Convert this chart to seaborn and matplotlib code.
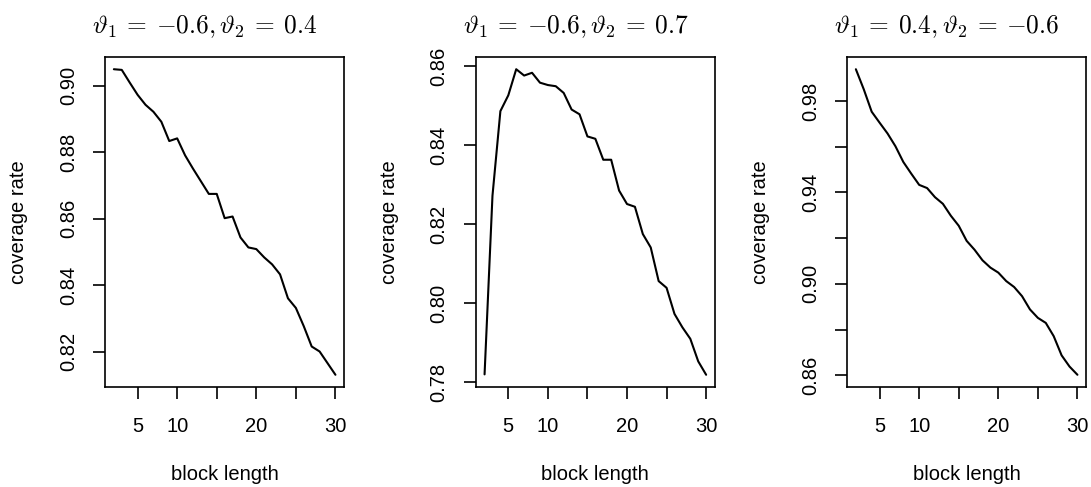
import numpy as np
import pandas as pd
import matplotlib
matplotlib.use("Agg")
import matplotlib.pyplot as plt
import seaborn as sns

# ---- data ----
block_length = list(range(2, 31))

cov_a = [0.9049, 0.9047, 0.9009, 0.8972, 0.8942, 0.8921, 0.8891, 0.8833, 0.8841,
         0.8790, 0.8750, 0.8712, 0.8674, 0.8674, 0.8601, 0.8606, 0.8543, 0.8513,
         0.8508, 0.8483, 0.8462, 0.8432, 0.8360, 0.8331, 0.8276, 0.8215, 0.8200,
         0.8165, 0.8130]
cov_b = [0.7820, 0.8272, 0.8486, 0.8526, 0.8592, 0.8576, 0.8583, 0.8558, 0.8552,
         0.8549, 0.8532, 0.8490, 0.8478, 0.8422, 0.8416, 0.8363, 0.8363, 0.8285,
         0.8251, 0.8244, 0.8175, 0.8141, 0.8056, 0.8039, 0.7973, 0.7939, 0.7910,
         0.7853, 0.7819]
cov_c = [0.9939, 0.9851, 0.9753, 0.9705, 0.9658, 0.9602, 0.9533, 0.9482, 0.9433,
         0.9419, 0.9379, 0.9350, 0.9298, 0.9254, 0.9188, 0.9149, 0.9103, 0.9071,
         0.9049, 0.9012, 0.8986, 0.8946, 0.8888, 0.8851, 0.8829, 0.8771, 0.8687,
         0.8638, 0.8602]

titles = [r"$\vartheta_1 \:=\: {-}0.6, \vartheta_2 \:=\: 0.4$",
          r"$\vartheta_1 \:=\: {-}0.6, \vartheta_2 \:=\: 0.7$",
          r"$\vartheta_1 \:=\: 0.4, \vartheta_2 \:=\: {-}0.6$"]

x_ticks = [5, 10, 15, 20, 25, 30]
x_ticklabels = ["5", "10", "", "20", "", "30"]

y_ticks_a = [0.82, 0.84, 0.86, 0.88, 0.90]
y_labels_a = ["0.82", "0.84", "0.86", "0.88", "0.90"]
y_ticks_b = [0.78, 0.80, 0.82, 0.84, 0.86]
y_labels_b = ["0.78", "0.80", "0.82", "0.84", "0.86"]
y_ticks_c = [0.86, 0.88, 0.90, 0.92, 0.94, 0.96, 0.98]
y_labels_c = ["0.86", "", "0.90", "", "0.94", "", "0.98"]

# ---- style ----
sns.set_theme(style="white")
plt.rcParams["font.family"] = ["Liberation Sans", "DejaVu Sans"]
plt.rcParams["mathtext.fontset"] = "cm"

fig = plt.figure(figsize=(10.91, 4.87), dpi=100)

lefts = [105 / 1091, 475.7 / 1091, 847 / 1091]
w = 239.3 / 1091
bottom = 100 / 487
h = 330 / 487

series = [cov_a, cov_b, cov_c]
yticks = [y_ticks_a, y_ticks_b, y_ticks_c]
ylabels = [y_labels_a, y_labels_b, y_labels_c]

fs = 14.5
for i in range(3):
    ax = fig.add_axes([lefts[i], bottom, w, h])
    df = pd.DataFrame({"block length": block_length, "coverage rate": series[i]})
    sns.lineplot(data=df, x="block length", y="coverage rate", ax=ax,
                 color="black", linewidth=1.5)
    ax.margins(x=0.04, y=0.04)
    ax.set_xticks(x_ticks)
    ax.set_xticklabels(x_ticklabels)
    ax.set_yticks(yticks[i])
    ax.set_yticklabels(ylabels[i], rotation=90, va="center")
    ax.tick_params(axis="both", which="major", direction="out", length=8.5,
                   width=1.2, color="black", labelsize=fs, labelcolor="black",
                   bottom=True, left=True)
    ax.tick_params(axis="x", pad=13)
    ax.tick_params(axis="y", pad=11)
    for s in ax.spines.values():
        s.set_visible(True)
        s.set_color("black")
        s.set_linewidth(1.2)
    ax.set_xlabel("block length", fontsize=fs, color="black", labelpad=21)
    ax.set_ylabel("coverage rate", fontsize=fs, color="black", labelpad=22)
    ax.set_title(titles[i], fontsize=18.3, x=0.418, pad=17, color="black")
    ax.grid(False)

fig.savefig("out.png", dpi=100, facecolor="white")
